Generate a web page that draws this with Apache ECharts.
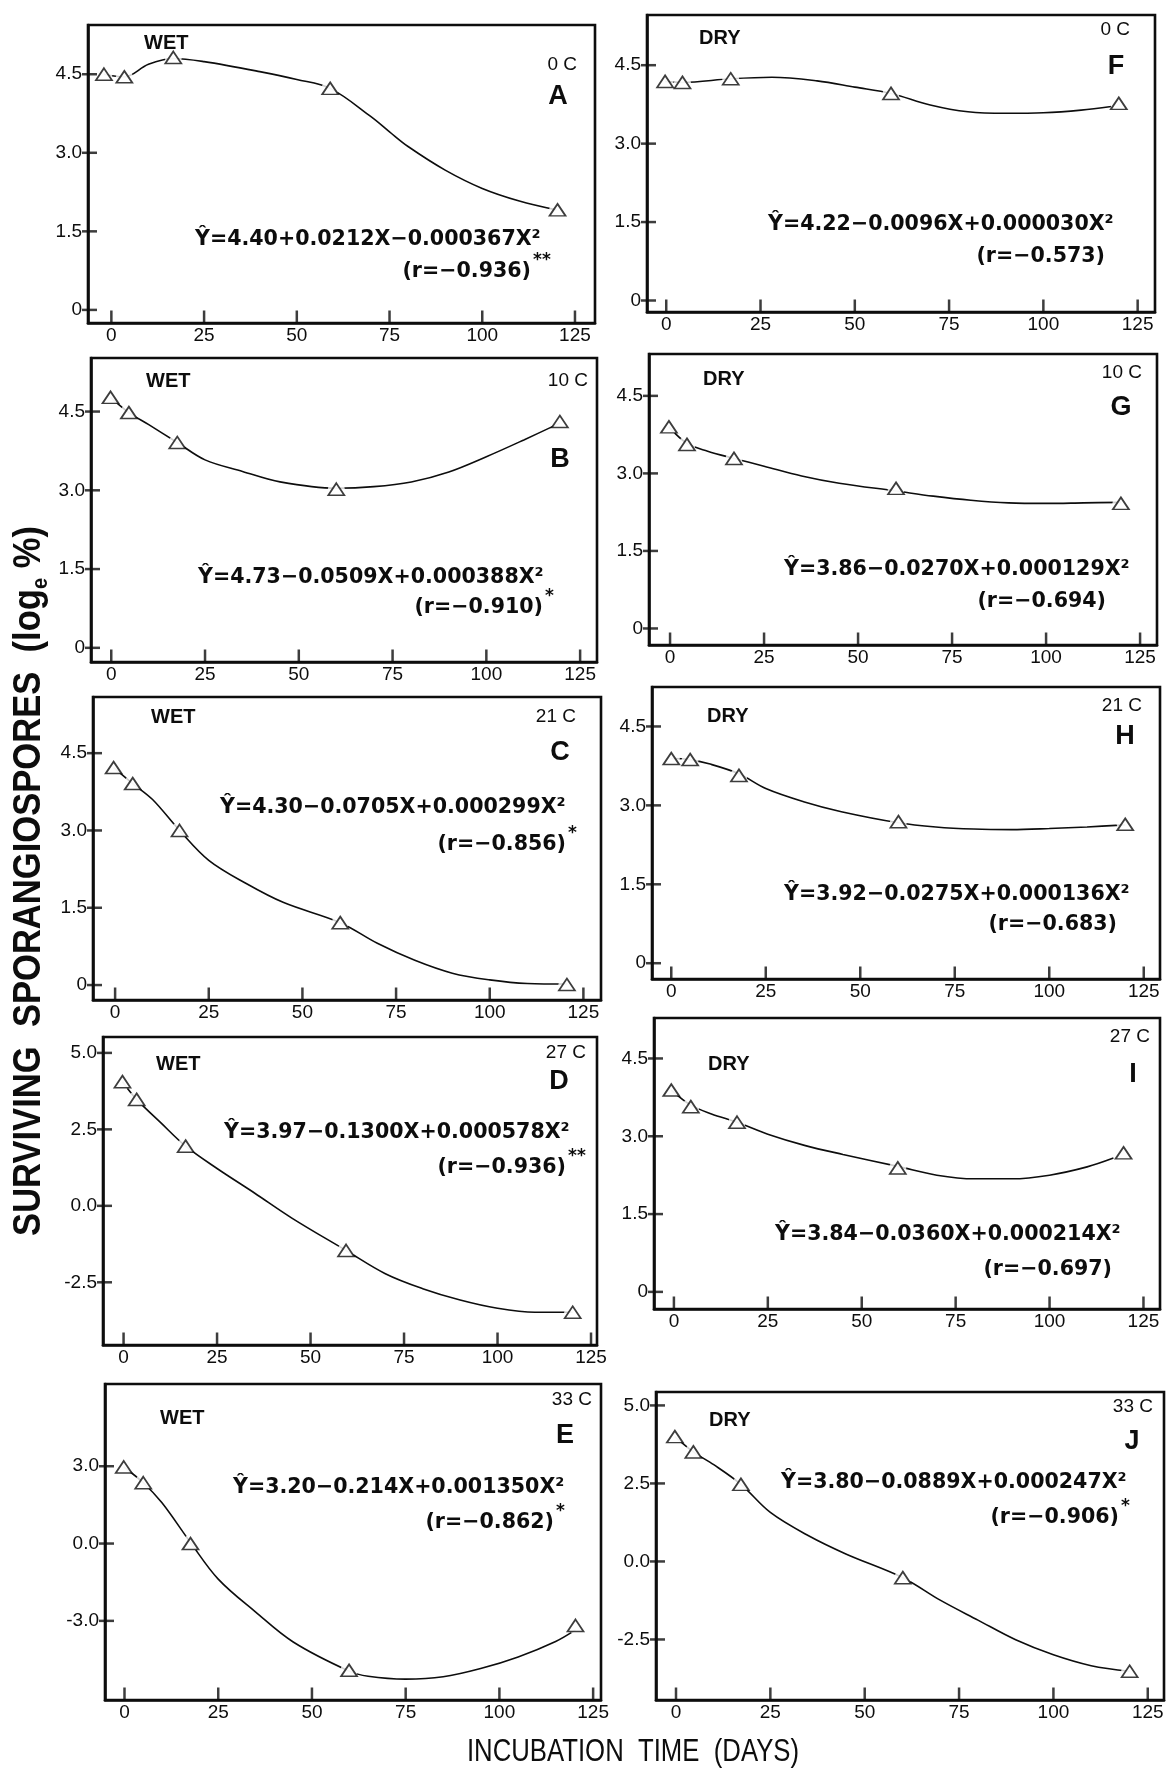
<!DOCTYPE html>
<html>
<head>
<meta charset="utf-8">
<title>Surviving sporangiospores</title>
<script src="https://cdn.jsdelivr.net/npm/echarts@6/dist/echarts.min.js"></script>
<style>
  html, body { margin: 0; padding: 0; background: #fff; }
  #chart { width: 1167px; height: 1775px; }
</style>
</head>
<body>
<div id="chart"></div>
<script>
// tick labels
const xTickLabels = ['0', '25', '50', '75', '100', '125'];
const yTicksLog = ['0', '1.5', '3.0', '4.5'];
const yTicksD = ['-2.5', '0.0', '2.5', '5.0'];
const yTicksE = ['-3.0', '0.0', '3.0'];
const yTicksJ = ['-2.5', '0.0', '2.5', '5.0'];

// panel texts (A-E wet, F-J dry)
const panelLetters = ['A', 'B', 'C', 'D', 'E', 'F', 'G', 'H', 'I', 'J'];
const conditions = ['WET', 'WET', 'WET', 'WET', 'WET', 'DRY', 'DRY', 'DRY', 'DRY', 'DRY'];
const temps = ['0 C', '10 C', '21 C', '27 C', '33 C', '0 C', '10 C', '21 C', '27 C', '33 C'];
const equations = [
  'Ŷ=4.40+0.0212X−0.000367X²',
  'Ŷ=4.73−0.0509X+0.000388X²',
  'Ŷ=4.30−0.0705X+0.000299X²',
  'Ŷ=3.97−0.1300X+0.000578X²',
  'Ŷ=3.20−0.214X+0.001350X²',
  'Ŷ=4.22−0.0096X+0.000030X²',
  'Ŷ=3.86−0.0270X+0.000129X²',
  'Ŷ=3.92−0.0275X+0.000136X²',
  'Ŷ=3.84−0.0360X+0.000214X²',
  'Ŷ=3.80−0.0889X+0.000247X²'
];
const rValues = ['(r=−0.936)', '(r=−0.910)', '(r=−0.856)', '(r=−0.936)', '(r=−0.862)',
  '(r=−0.573)', '(r=−0.694)', '(r=−0.683)', '(r=−0.697)', '(r=−0.906)'];
const stars = ['**', '*', '*', '**', '*', '', '', '', '', '*'];

const aDays = [-2, 3.5, 16.7, 59, 120.3];
const aValues = [4.5, 4.45, 4.82, 4.23, 1.91];
const aCurve = [[-2, 4.5], [3.5, 4.45], [10, 4.69], [16.7, 4.8], [25, 4.74], [40, 4.55], [50, 4.4], [59, 4.23], [70, 3.69], [75, 3.4], [80, 3.12], [90, 2.67], [100, 2.32], [110, 2.08], [120, 1.91]];

const bDays = [-0.2, 4.7, 17.6, 60, 119.6];
const bValues = [4.77, 4.48, 3.91, 3.02, 4.31];
const bCurve = [[-0.2, 4.77], [4.7, 4.48], [10, 4.25], [17.6, 3.91], [25, 3.58], [35, 3.36], [45, 3.16], [60, 3.04], [70, 3.07], [80, 3.16], [90, 3.35], [100, 3.64], [110, 3.96], [119.6, 4.28]];

const cDays = [-0.4, 4.7, 17.2, 60.1, 120.6];
const cValues = [4.22, 3.91, 3.0, 1.21, 0.01];
const cCurve = [[-0.4, 4.22], [4.7, 3.91], [10, 3.6], [17.2, 3.0], [25, 2.42], [35, 1.97], [45, 1.6], [60.1, 1.21], [70, 0.81], [80, 0.48], [90, 0.23], [100, 0.1], [110, 0.03], [120.6, 0.02]];

const dDays = [-0.3, 3.5, 16.6, 59.5, 120.1];
const dValues = [4.06, 3.48, 1.95, -1.46, -3.48];
const dCurve = [[-0.3, 4.06], [3.5, 3.48], [10, 2.71], [16.6, 1.95], [25, 1.22], [35, 0.42], [45, -0.4], [59.5, -1.46], [70, -2.22], [80, -2.71], [90, -3.08], [100, -3.35], [110, -3.48], [120.1, -3.48]];

const eDays = [-0.2, 5, 17.6, 59.9, 120.3];
const eValues = [2.97, 2.36, 0.0, -4.92, -3.18];
const eCurve = [[-0.2, 2.97], [5, 2.36], [10, 1.58], [17.6, 0.04], [25, -1.38], [35, -2.66], [45, -3.82], [59.9, -4.95], [65, -5.15], [75, -5.26], [85, -5.17], [95, -4.85], [105, -4.4], [115, -3.8], [120.3, -3.35]];

const fDays = [-0.3, 4.3, 17.1, 59.6, 120];
const fValues = [4.19, 4.17, 4.24, 3.96, 3.77];
const fCurve = [[-0.3, 4.19], [4.3, 4.17], [17.1, 4.24], [28, 4.27], [40, 4.2], [50, 4.08], [59.6, 3.96], [70, 3.74], [80, 3.61], [90, 3.58], [100, 3.59], [110, 3.64], [118, 3.71]];

const gDays = [-0.3, 4.5, 17, 60.1, 119.9];
const gValues = [3.9, 3.56, 3.29, 2.71, 2.42];
const gCurve = [[-0.3, 3.9], [4.5, 3.58], [10, 3.43], [17, 3.29], [25, 3.14], [35, 2.95], [45, 2.81], [60.1, 2.66], [70, 2.56], [80, 2.48], [90, 2.43], [100, 2.42], [110, 2.43], [119.9, 2.44]];

const hDays = [0, 5, 17.9, 60.1, 120.1];
const hValues = [3.89, 3.87, 3.57, 2.69, 2.64];
const hCurve = [[0, 3.89], [5, 3.87], [10, 3.79], [17.9, 3.6], [25, 3.32], [35, 3.07], [45, 2.88], [60.1, 2.67], [70, 2.59], [80, 2.55], [90, 2.54], [100, 2.56], [110, 2.59], [120.1, 2.63]];

const iDays = [-0.7, 4.5, 16.8, 59.6, 119.7];
const iValues = [3.89, 3.57, 3.27, 2.39, 2.68];
const iCurve = [[-0.7, 3.89], [4.5, 3.6], [10, 3.43], [16.8, 3.27], [25, 3.04], [35, 2.82], [45, 2.65], [59.6, 2.42], [70, 2.25], [80, 2.18], [90, 2.18], [100, 2.25], [110, 2.41], [117, 2.58]];

const jDays = [-0.3, 4.6, 17.2, 60.1, 120.2];
const jValues = [4.0, 3.51, 2.47, -0.52, -3.52];
const jCurve = [[-0.3, 4.0], [4.6, 3.51], [10, 3.1], [17.2, 2.47], [25, 1.57], [35, 0.83], [45, 0.24], [60.1, -0.52], [70, -1.24], [80, -1.88], [90, -2.51], [100, -2.99], [110, -3.34], [120.2, -3.52]];

const allDays = [aDays, bDays, cDays, dDays, eDays, fDays, gDays, hDays, iDays, jDays];
const allValues = [aValues, bValues, cValues, dValues, eValues, fValues, gValues, hValues, iValues, jValues];
const allCurves = [aCurve, bCurve, cCurve, dCurve, eCurve, fCurve, gCurve, hCurve, iCurve, jCurve];
const allYTicks = [yTicksLog, yTicksLog, yTicksLog, yTicksD, yTicksE, yTicksLog, yTicksLog, yTicksLog, yTicksLog, yTicksJ];

// 每个小图的位置 (px) 与坐标范围
const layout = [
  { box: [88, 25, 507, 298], x: [-6.3, 130.4], y: [-0.25, 5.44], cond: [144, 43], temp: [577, 65], letter: [558, 97], eq: [195, 240], r: [531, 272] },
  { box: [91, 358, 506, 304], x: [-5.4, 129.5], y: [-0.27, 5.52], cond: [146, 381], temp: [588, 381], letter: [560, 460], eq: [198, 578], r: [543, 608] },
  { box: [93, 697, 508, 303], x: [-5.9, 129.7], y: [-0.29, 5.59], cond: [151, 717], temp: [576, 717], letter: [560, 753], eq: [220, 808], r: [566, 845] },
  { box: [103, 1037, 494, 308], x: [-5.5, 126.6], y: [-4.55, 5.52], cond: [156, 1064], temp: [586, 1053], letter: [559, 1082], eq: [224, 1133], r: [566, 1168] },
  { box: [105, 1384, 496, 316], x: [-5.2, 127.1], y: [-6.07, 6.19], cond: [160, 1418], temp: [592, 1400], letter: [565, 1436], eq: [233, 1488], r: [554, 1523] },
  { box: [647, 15, 508, 297], x: [-5.1, 129.6], y: [-0.22, 5.46], cond: [699, 38], temp: [1130, 30], letter: [1116, 67], eq: [768, 225], r: [1105, 257] },
  { box: [649, 354, 508, 291], x: [-5.6, 129.5], y: [-0.32, 5.31], cond: [703, 379], temp: [1142, 373], letter: [1121, 408], eq: [784, 570], r: [1106, 602] },
  { box: [652, 687, 508, 292], x: [-5.1, 129.3], y: [-0.3, 5.25], cond: [707, 716], temp: [1142, 706], letter: [1125, 737], eq: [784, 895], r: [1117, 925] },
  { box: [654, 1018, 506, 291], x: [-5.3, 129.4], y: [-0.33, 5.28], cond: [708, 1064], temp: [1150, 1037], letter: [1133, 1075], eq: [775, 1235], r: [1112, 1270] },
  { box: [656, 1392, 508, 308], x: [-5.3, 129.3], y: [-4.44, 5.43], cond: [709, 1420], temp: [1153, 1407], letter: [1132, 1442], eq: [781, 1483], r: [1119, 1518] }
];

const INK = '#0d0d0d';
const tickFont = 'Liberation Sans';

const chart = echarts.init(document.getElementById('chart'), null, { renderer: 'canvas' });

const grids = [], xAxes = [], yAxes = [], series = [], graphics = [];

layout.forEach((p, i) => {
  grids.push({
    left: p.box[0], top: p.box[1], width: p.box[2], height: p.box[3],
    show: true, borderColor: INK, borderWidth: 2.6, backgroundColor: 'transparent'
  });

  const xVals = xTickLabels.map(Number);
  xAxes.push({
    gridIndex: i, type: 'value', min: p.x[0], max: p.x[1],
    axisLine: { show: true, onZero: false, lineStyle: { color: INK, width: 2.6 } },
    splitLine: { show: false },
    axisTick: { show: false },
    axisLabel: {
      customValues: xVals, margin: 3, color: INK, fontSize: 19, fontFamily: tickFont,
      formatter: v => xTickLabels[xVals.indexOf(v)]
    }
  });

  const yLabels = allYTicks[i];
  const yVals = yLabels.map(Number);
  yAxes.push({
    gridIndex: i, type: 'value', min: p.y[0], max: p.y[1],
    axisLine: { show: true, onZero: false, lineStyle: { color: INK, width: 2.6 } },
    splitLine: { show: false },
    axisTick: { show: false },
    axisLabel: {
      customValues: yVals, margin: 6, color: INK, fontSize: 19, fontFamily: tickFont,
      formatter: v => yLabels[yVals.indexOf(v)]
    }
  });

  // tick marks: x ticks point up from the bottom edge, y ticks cross the left edge
  series.push({
    type: 'scatter', xAxisIndex: i, yAxisIndex: i, silent: true, clip: false, z: 6,
    data: xVals.map(v => [v, p.y[0]]),
    symbol: 'rect', symbolSize: [2.5, 13], symbolOffset: [0, -6],
    itemStyle: { color: INK }
  });
  series.push({
    type: 'scatter', xAxisIndex: i, yAxisIndex: i, silent: true, clip: false, z: 6,
    data: yVals.map(v => [p.x[0], v]),
    symbol: 'rect', symbolSize: [15, 2.5], symbolOffset: [1.5, 0],
    itemStyle: { color: INK }
  });

  // fitted curve
  series.push({
    type: 'line', xAxisIndex: i, yAxisIndex: i, data: allCurves[i],
    smooth: 0.35, showSymbol: false, silent: true,
    lineStyle: { color: INK, width: 1.6 }, z: 2
  });
  const pts = allDays[i].map((d, k) => [d, allValues[i][k]]);
  // white halo so the line stops short of each triangle
  series.push({
    type: 'scatter', xAxisIndex: i, yAxisIndex: i, data: pts, silent: true,
    symbol: 'circle', symbolSize: 17, itemStyle: { color: '#fff' }, z: 3
  });
  series.push({
    type: 'scatter', xAxisIndex: i, yAxisIndex: i, data: pts, silent: true,
    symbol: 'triangle', symbolSize: [16, 12],
    itemStyle: { color: '#fff', borderColor: INK, borderWidth: 1.7 }, z: 4
  });

  // panel texts
  graphics.push({ type: 'text', x: p.cond[0], y: p.cond[1], style: { text: conditions[i], fill: INK, font: 'bold 20px "Liberation Sans"', align: 'left', verticalAlign: 'middle' } });
  graphics.push({ type: 'text', x: p.temp[0], y: p.temp[1], style: { text: temps[i], fill: INK, font: '19px "Liberation Sans"', align: 'right', verticalAlign: 'middle' } });
  graphics.push({ type: 'text', x: p.letter[0], y: p.letter[1], style: { text: panelLetters[i], fill: INK, font: 'bold 27px "Liberation Sans"', align: 'center', verticalAlign: 'middle' } });
  graphics.push({ type: 'text', x: p.eq[0], y: p.eq[1], scaleX: 0.98, style: { text: equations[i], fill: INK, font: 'bold 21px "DejaVu Sans"', align: 'left', verticalAlign: 'middle' } });
  graphics.push({ type: 'text', x: p.r[0], y: p.r[1], scaleX: 0.98, style: { text: rValues[i], fill: INK, font: 'bold 21px "DejaVu Sans"', align: 'right', verticalAlign: 'middle' } });
  if (stars[i]) {
    graphics.push({ type: 'text', x: p.r[0] + 2, y: p.r[1] - 11, style: { text: stars[i], fill: INK, font: 'bold 17px "DejaVu Sans"', align: 'left', verticalAlign: 'middle' } });
  }
});

// axis titles
graphics.push({
  type: 'text', x: 30, y: 881, rotation: Math.PI / 2, scaleX: 0.91,
  style: {
    text: 'SURVIVING  SPORANGIOSPORES  (log{sub|e} %)',
    fill: INK, font: 'bold 38px "Liberation Sans"', align: 'center', verticalAlign: 'middle',
    rich: { sub: { fontSize: 22, fontWeight: 'bold', fontFamily: 'Liberation Sans', verticalAlign: 'bottom', lineHeight: 44 } }
  }
});
graphics.push({
  type: 'text', x: 633, y: 1752, scaleX: 0.83,
  style: { text: 'INCUBATION  TIME  (DAYS)', fill: INK, font: '31px "Liberation Sans"', align: 'center', verticalAlign: 'middle' }
});

chart.setOption({
  backgroundColor: '#fff',
  animation: false,
  grid: grids,
  xAxis: xAxes,
  yAxis: yAxes,
  series: series,
  graphic: graphics
});
</script>
</body>
</html>
